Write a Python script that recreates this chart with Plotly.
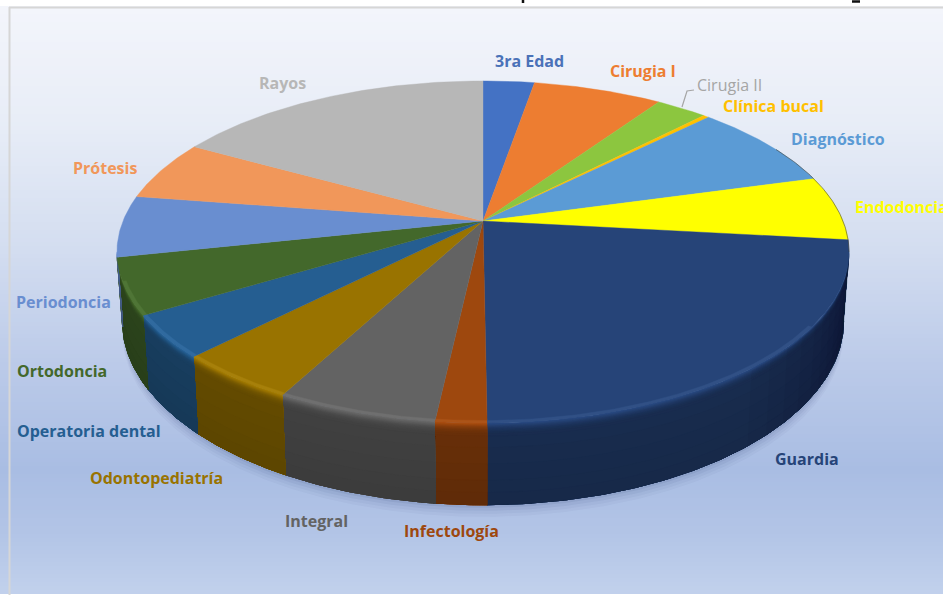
import numpy as np
import plotly.graph_objects as go

# ---- data ----
slice_names = ["3ra Edad", "Cirugia I", "Cirugia II", "Clínica bucal", "Diagnóstico", "Endodoncia",
               "Guardia", "Infectología", "Integral", "Odontopediatría", "Operatoria dental",
               "Ortodoncia", "Periodoncia", "Prótesis", "Rayos"]
slice_values = [2.7, 6.8, 2.7, 0.3, 8.2, 6.1, 23.1, 1.9, 6.0, 4.6, 4.0, 5.3, 5.8, 5.7, 16.9]
slice_colors = ["#4472c4", "#ed7d31", "#8cc63f", "#ffc000", "#5b9bd5", "#ffff00",
                "#264478", "#9e480e", "#636363", "#997300", "#255e91",
                "#43682b", "#698ed0", "#f1975a", "#b7b7b7"]

# ---- label layout ----
label_x = [493, 608, 695, 721, 789, 853, 773, 402, 283, 88, 15, 15, 14, 71, 257]
label_y = [61, 71, 85, 106, 139, 207, 459, 531, 521, 478, 431, 371, 302, 168, 83]
label_colors = ["#4a72b8", "#ed7d31", "#a5a5a5", "#ffc000", "#5b9bd5", "#ffff00",
                "#264478", "#9e480e", "#636363", "#997300", "#255e91",
                "#43682b", "#698ed0", "#f1975a", "#b7b7b7"]

# ---- projection of the disc ----
CX, CY, R, B, K, H = 483, 221, 360, 165.4, 0.181, 67
VIS_A, VIS_B = 100.4, 259.6  # part of the wall that faces the viewer


def project(theta_deg, r=1.0, f=0.0):
    t = np.radians(theta_deg)
    u, v = r * np.sin(t), -r * np.cos(t)
    d = 1 - K * v
    return CX + R * u / d * (1 - 0.015 * f), CY + (B * v + H * f) / d


def arc(a, b, r=1.0, f=0.0):
    n = max(2, int(abs(b - a) * 1.5) + 2)
    return project(np.linspace(a, b, n), r, f)


def rgb(c):
    return np.array([int(c[i:i + 2], 16) for i in (1, 3, 5)], float)


def shade(c, m, add=0.0):
    o = np.clip(rgb(c) * m + add, 0, 255).astype(int)
    return f"rgb({o[0]},{o[1]},{o[2]})"


fig = go.Figure()


def poly(x, y, color, edge=True):
    fig.add_trace(go.Scatter(
        x=np.asarray(x), y=np.asarray(y), mode="lines", fill="toself", fillcolor=color,
        line=dict(color=color, width=0.4 if edge else 0), hoverinfo="skip", showlegend=False))


# background panel gradient
bg_y = [8, 120, 250, 360, 470, 530, 595]
bg_c = ["#f3f5fb", "#e8edf7", "#d3ddf0", "#bccbe9", "#a9bde3", "#b2c4e6", "#c2d1ec"]
rows = np.arange(8, 596, 4)
fig.add_trace(go.Heatmap(
    x=[10, 943], y=rows, z=[[v, v] for v in rows], zmin=8, zmax=595,
    colorscale=[[(p - 8) / 587, c] for p, c in zip(bg_y, bg_c)],
    showscale=False, hoverinfo="skip"))

# soft shadow under the disc
for grow, alpha in [(12, 0.03), (9, 0.04), (6, 0.05), (3, 0.07)]:
    x, y = arc(VIS_A, VIS_B, 1.0, 1.0)
    poly(np.r_[x, x[::-1]], np.r_[y + grow, y[::-1] - 30], f"rgba(20,40,90,{alpha})", edge=False)

# angles from the values
edges = np.r_[0, np.cumsum(slice_values)] / sum(slice_values) * 360

# side wall: each band reaches to the base, so later bands paint over earlier ones
band_f = [0.0, 0.015, 0.03, 0.045, 0.06, 0.075, 0.09, 0.11, 0.13, 0.16, 0.3, 0.5, 0.7, 0.85]
band_m = [1.08, 1.0, 0.93, 0.86, 0.8, 0.75, 0.71, 0.68, 0.66, 0.65, 0.64, 0.63, 0.62, 0.61]
for a, b, c in zip(edges[:-1], edges[1:], slice_colors):
    lo, hi = max(a, VIS_A), min(b, VIS_B)
    if hi <= lo:
        continue
    for f0, m in zip(band_f, band_m):
        x0, y0 = arc(lo, hi, 1.0, f0)
        x1, y1 = arc(lo, hi, 1.0, 1.0)
        poly(np.r_[x0, x1[::-1]], np.r_[y0, y1[::-1]], shade(c, m))

# the wall darkens toward the right-hand silhouette
for stop in [140, 136, 132, 128, 124, 121, 118, 115, 112, 109, 106, 104]:
    x0, y0 = arc(VIS_A, stop, 1.0, 0.03)
    x1, y1 = arc(VIS_A, stop, 1.0, 1.0)
    poly(np.r_[x0, x1[::-1]], np.r_[y0, y1[::-1]], "rgba(0,0,20,0.04)", edge=False)

# top face
for a, b, c in zip(edges[:-1], edges[1:], slice_colors):
    x, y = arc(a, b)
    poly(np.r_[CX, x, CX], np.r_[CY, y, CY], c)

# faint bevel on the front of the top-face rim
for a, b, c in zip(edges[:-1], edges[1:], slice_colors):
    lo, hi = max(a, 125), min(b, 250)
    if hi <= lo:
        continue
    x0, y0 = arc(lo, hi, 0.99)
    x1, y1 = arc(lo, hi, 1.0)
    poly(np.r_[x0, x1[::-1]], np.r_[y0, y1[::-1]], shade(c, 1.03, 10))

# dark edge on the right of the rim
x, y = arc(62, VIS_A)
fig.add_trace(go.Scatter(x=x, y=y, mode="lines", line=dict(color="rgba(60,60,50,0.55)", width=1),
                         hoverinfo="skip", showlegend=False))

# leader line for Cirugia II
fig.add_trace(go.Scatter(x=[682, 687, 694], y=[107, 91, 90], mode="lines",
                         line=dict(color="#a5a5a5", width=1.2),
                         hoverinfo="skip", showlegend=False))

annotations = []
for name, lx, ly, col in zip(slice_names, label_x, label_y, label_colors):
    annotations.append(dict(
        x=lx, y=ly, xref="x", yref="y", text=name if name == "Cirugia II" else f"<b>{name}</b>",
        showarrow=False, xanchor="left", yanchor="middle", align="left",
        font=dict(family="Open Sans", size=16, color=col)))

fig.update_layout(
    width=943, height=595, margin=dict(l=0, r=0, t=0, b=0),
    paper_bgcolor="white", plot_bgcolor="white",
    xaxis=dict(range=[0, 943], visible=False, fixedrange=True),
    yaxis=dict(range=[595, 0], visible=False, fixedrange=True),
    annotations=annotations,
    shapes=[
        dict(type="line", x0=9.5, x1=9.5, y0=7, y1=595, line=dict(color="#d6d6d6", width=2), layer="above"),
        dict(type="line", x0=9, x1=943, y0=7.5, y1=7.5, line=dict(color="#d6d6d6", width=2), layer="above"),
        dict(type="line", x0=523, x1=523, y0=0, y1=3, line=dict(color="#111111", width=2.5), layer="above"),
        dict(type="line", x0=852, x1=860, y0=1.5, y1=1.5, line=dict(color="#111111", width=2.5), layer="above"),
    ],
)
fig.write_html("out.html", config=dict(displayModeBar=False),
               post_script="document.body.style.margin='0';document.documentElement.style.overflow='hidden';")
